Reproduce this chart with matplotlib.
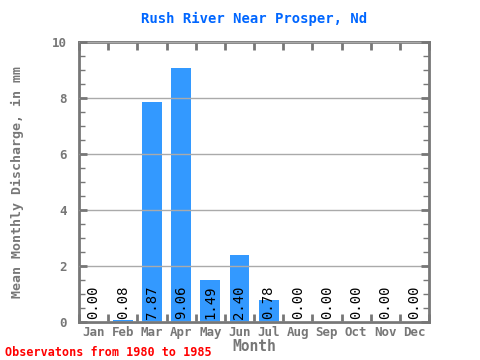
import numpy as np
import matplotlib.pyplot as plt
from matplotlib.ticker import MultipleLocator

months = ['Jan', 'Feb', 'Mar', 'Apr', 'May', 'Jun', 'Jul', 'Aug', 'Sep', 'Oct', 'Nov', 'Dec']
discharge = [0.00, 0.08, 7.87, 9.06, 1.49, 2.40, 0.78, 0.00, 0.00, 0.00, 0.00, 0.00]
yticks = [0, 2, 4, 6, 8, 10]

plt.rcParams['font.family'] = ['DejaVu Sans Mono']
gray = '#777777'

fig = plt.figure(figsize=(4.8, 3.6), dpi=100)
ax = fig.add_axes([0.1646, 0.1056, 0.7292, 0.7778])

x = np.arange(len(months))
ax.bar(x, discharge, width=0.68, color='#3399ff', zorder=1)
for i, v in enumerate(discharge):
    ax.text(i, 0.12, '%.2f' % v, rotation=90, ha='center', va='bottom',
            fontsize=10, color='black', zorder=3)

ax.set_xlim(-0.5, 11.5)
ax.set_ylim(0, 10)
ax.set_yticks(yticks)
ax.yaxis.set_minor_locator(MultipleLocator(0.5))
ax.set_xticks(x)
ax.set_xticklabels(months)
ax.set_xticks(np.arange(-0.5, 12, 1), minor=True)
ax.grid(axis='y', which='major', color='#aaaaaa', linewidth=1, zorder=2)
ax.set_axisbelow(False)

for s in ax.spines.values():
    s.set_color(gray)
    s.set_linewidth(2)
ax.tick_params(axis='x', which='major', length=0, colors=gray, labelsize=9, pad=3)
ax.tick_params(axis='x', which='minor', length=6, width=2, color=gray, direction='in', top=True, bottom=True)
ax.tick_params(axis='y', which='major', length=6, width=2, color=gray, direction='in',
               left=True, right=True, labelcolor=gray, labelsize=9, pad=9)
ax.tick_params(axis='y', which='minor', length=4, width=1, color=gray, direction='in', left=True, right=True)
for lab in ax.get_xticklabels() + ax.get_yticklabels():
    lab.set_fontweight('bold')

ax.set_title('Rush River Near Prosper, Nd', color='#0066ff', fontsize=10, fontweight='bold', pad=14)
ax.set_xlabel('Month', color=gray, fontsize=10.5, fontweight='bold', labelpad=0)
ax.set_ylabel('Mean Monthly Discharge, in mm', color=gray, fontsize=9.5, fontweight='bold', labelpad=20)
fig.text(0.01, 0.01, 'Observatons from 1980 to 1985', color='red', fontsize=8.5, fontweight='bold')

fig.savefig('out.png', dpi=100)
